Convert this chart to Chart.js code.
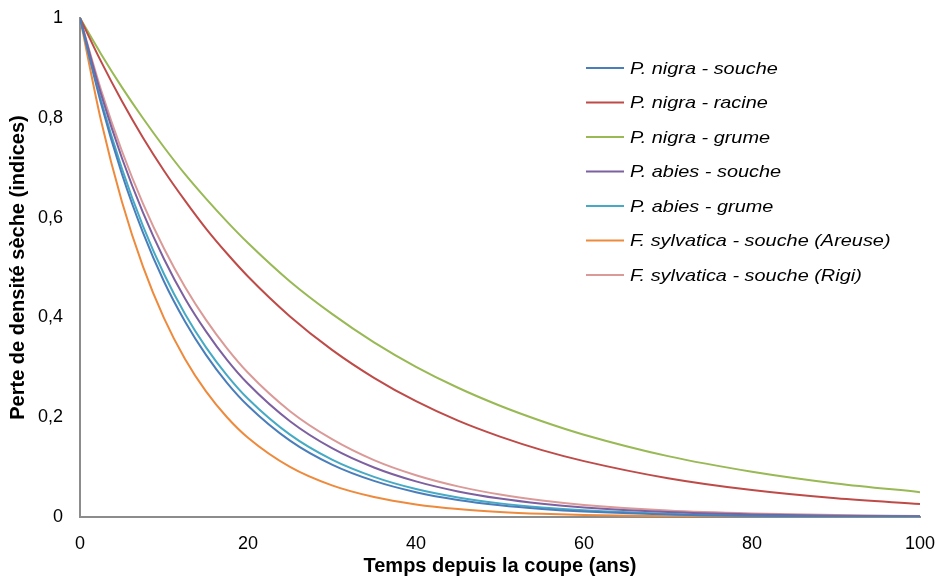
<!DOCTYPE html>
<html>
<head>
<meta charset="utf-8">
<script src="https://cdn.jsdelivr.net/npm/chart.js@4/dist/chart.umd.min.js"></script>
<style>
html,body{margin:0;padding:0;background:#fff;}
#wrap{width:940px;height:581px;position:relative;}
</style>
</head>
<body>
<div id="wrap"><canvas id="c" width="940" height="581"></canvas></div>
<script>
// Years since felling (x values)
const years = [0,2.5,5,7.5,10,12.5,15,17.5,20,25,30,35,40,45,50,55,60,70,80,90,100];

// Series values
const nigraSouche   = [1,0.829,0.687,0.570,0.472,0.392,0.325,0.269,0.223,0.153,0.105,0.0724,0.0498,0.0342,0.0235,0.0162,0.0111,0.0052,0.0025,0.0012,0.0006];
const nigraRacine   = [1,0.913,0.833,0.760,0.694,0.634,0.578,0.528,0.482,0.402,0.335,0.279,0.232,0.193,0.161,0.134,0.112,0.0777,0.0539,0.0374,0.0260];
const nigraGrume    = [1,0.928,0.861,0.799,0.741,0.687,0.638,0.592,0.549,0.472,0.407,0.350,0.301,0.259,0.223,0.192,0.165,0.122,0.0907,0.0672,0.0498];
const abiesSouche   = [1,0.848,0.719,0.610,0.517,0.438,0.372,0.315,0.267,0.192,0.138,0.0993,0.0714,0.0513,0.0369,0.0265,0.0191,0.0099,0.0051,0.0026,0.0014];
const abiesGrume    = [1,0.835,0.698,0.583,0.487,0.407,0.340,0.284,0.237,0.165,0.115,0.0805,0.0561,0.0392,0.0273,0.0191,0.0133,0.0065,0.0032,0.0015,0.0007];
const sylvAreuse    = [1,0.7945,0.6313,0.5016,0.3985,0.3166,0.2516,0.1999,0.1588,0.1003,0.0633,0.0400,0.0252,0.0159,0.0101,0.0064,0.0040,0.0016,0.0006,0.0003,0.0001];
const sylvRigi      = [1,0.856,0.733,0.628,0.538,0.461,0.395,0.338,0.289,0.212,0.156,0.114,0.0837,0.0614,0.0450,0.0330,0.0242,0.0130,0.0070,0.0038,0.0020];

const seriesLabels = [
  "P. nigra - souche",
  "P. nigra - racine",
  "P. nigra - grume",
  "P. abies - souche",
  "P. abies - grume",
  "F. sylvatica - souche (Areuse)",
  "F. sylvatica - souche (Rigi)"
];
const seriesValues = [nigraSouche, nigraRacine, nigraGrume, abiesSouche, abiesGrume, sylvAreuse, sylvRigi];
const seriesColors = ["#4A7EBB","#BE4B48","#98B954","#7D60A0","#46AAC5","#EE8A3C","#DA9A98"];

const xTicks = [0,20,40,60,80,100];
const yTicks = [0,0.2,0.4,0.6,0.8,1];

const FONT = "'Liberation Sans', Arial, sans-serif";

const datasets = seriesValues.map((vals, i) => ({
  label: seriesLabels[i],
  data: years.map((x, j) => ({x: x, y: vals[j]})),
  borderColor: seriesColors[i],
  backgroundColor: seriesColors[i],
  borderWidth: 2,
  pointRadius: 0,
  fill: false,
  showLine: true,
  cubicInterpolationMode: 'monotone'
}));

const insideLegend = {
  id: 'insideLegend',
  afterDatasetsDraw(chart) {
    const ctx = chart.ctx;
    ctx.save();
    ctx.textBaseline = 'middle';
    ctx.textAlign = 'left';
    chart.data.datasets.forEach((ds, i) => {
      const y = 68 + i * 34.5;
      ctx.strokeStyle = ds.borderColor;
      ctx.lineWidth = 2;
      ctx.beginPath();
      ctx.moveTo(586, y);
      ctx.lineTo(624, y);
      ctx.stroke();
      ctx.save();
      ctx.translate(630, y + 1);
      ctx.scale(1.17, 1);
      ctx.font = "italic 17px " + FONT;
      ctx.fillStyle = '#000';
      ctx.fillText(ds.label, 0, 0);
      ctx.restore();
    });
    ctx.restore();
  }
};

new Chart(document.getElementById('c'), {
  type: 'scatter',
  data: { datasets },
  plugins: [insideLegend],
  options: {
    responsive: false,
    animation: false,
    layout: { padding: { left: 0, right: 20, top: 18, bottom: 0 } },
    plugins: { legend: { display: false }, tooltip: { enabled: false } },
    scales: {
      x: {
        type: 'linear',
        min: 0, max: 100,
        afterBuildTicks: s => { s.ticks = xTicks.map(v => ({value: v})); },
        afterFit: s => { s.height = 64; s.paddingLeft = 0; s.paddingRight = 0; },
        grid: { display: false, drawTicks: false },
        border: { display: true, color: '#8C8C8C', width: 2 },
        ticks: { color: '#000', font: { family: FONT, size: 18 }, padding: 16, maxRotation: 0 },
        title: { display: true, text: 'Temps depuis la coupe (ans)', color: '#000',
                 font: { family: FONT, size: 20, weight: 'bold' }, padding: { top: 0, bottom: 3 } }
      },
      y: {
        type: 'linear',
        min: 0, max: 1,
        afterBuildTicks: s => { s.ticks = yTicks.map(v => ({value: v})); },
        afterFit: s => { s.width = 80; s.paddingTop = 0; s.paddingBottom = 0; },
        grid: { display: false, drawTicks: false },
        border: { display: true, color: '#8C8C8C', width: 2 },
        ticks: { color: '#000', font: { family: FONT, size: 18 }, padding: 17,
                 callback: v => (v === 0 || v === 1) ? String(v) : v.toFixed(1).replace('.', ',') },
        title: { display: true, text: 'Perte de densité sèche (indices)', color: '#000',
                 font: { family: FONT, size: 20, weight: 'bold' }, padding: { top: 6, bottom: 0 } }
      }
    }
  }
});
</script>
</body>
</html>
